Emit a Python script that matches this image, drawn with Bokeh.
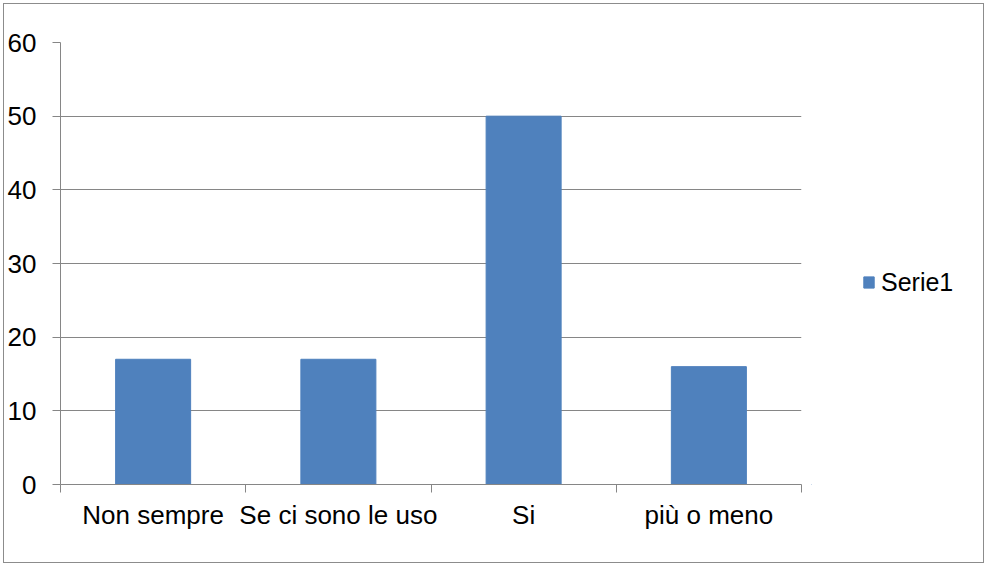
from bokeh.plotting import figure
from bokeh.layouts import row
from bokeh.models import FixedTicker, Legend, LegendItem
from bokeh.embed import file_html
from bokeh.resources import INLINE

categories = ["Non sempre", "Se ci sono le uso", "Si", "più o meno"]
values = [17, 17, 50, 16]
series_name = "Serie1"
y_ticks = [0, 10, 20, 30, 40, 50, 60]

xs = [i + 1 for i in range(len(categories))]
FONT = "Liberation Sans"
GRAY = "#868686"
BLUE = "#4F81BD"

p = figure(width=807, height=558, x_range=(0.5, len(categories) + 0.5), y_range=(0, 60),
           output_backend="svg", toolbar_location=None,
           min_border_left=56, min_border_right=10, min_border_top=38, min_border_bottom=78)
p.outline_line_color = None
p.background_fill_color = "white"
p.border_fill_color = "white"

r = p.vbar(x=xs, top=values, width=0.405, fill_color=BLUE, line_color=BLUE)

# x axis: category labels at centres, tick marks at boundaries
p.xaxis.ticker = FixedTicker(ticks=xs, minor_ticks=[x - 0.5 for x in xs] + [xs[-1] + 0.5])
p.xaxis.major_label_overrides = {x: c for x, c in zip(xs, categories)}
p.xaxis.major_tick_in = 0
p.xaxis.major_tick_out = 0
p.xaxis.minor_tick_in = 0
p.xaxis.minor_tick_out = 8
p.xaxis.minor_tick_line_color = GRAY
p.xaxis.axis_line_color = GRAY
p.xaxis.major_label_standoff = 7
p.xaxis.major_label_text_font = FONT
p.xaxis.major_label_text_font_size = "26px"
p.xaxis.major_label_text_color = "black"
p.xgrid.visible = False

# y axis
p.yaxis.ticker = FixedTicker(ticks=y_ticks)
p.yaxis.major_tick_in = 0
p.yaxis.major_tick_out = 8
p.yaxis.minor_tick_out = 0
p.yaxis.major_tick_line_color = GRAY
p.yaxis.axis_line_color = GRAY
p.yaxis.major_label_standoff = 16
p.yaxis.major_label_text_font = FONT
p.yaxis.major_label_text_font_size = "26px"
p.yaxis.major_label_text_color = "black"
p.ygrid.ticker = FixedTicker(ticks=y_ticks)
p.ygrid.grid_line_color = GRAY
p.ygrid.grid_line_width = 1

# legend panel on the right (its stub bar lies wholly outside the visible ranges)
lp = figure(width=172, height=558, x_range=(0, 1), y_range=(0, 1),
            x_axis_type=None, y_axis_type=None,
            output_backend="svg", toolbar_location=None,
            min_border=0)
lp.outline_line_color = None
lp.background_fill_color = "white"
lp.border_fill_color = "white"
lr = lp.vbar(x=[-5], top=[-5], bottom=[-6], width=0.4, fill_color=BLUE, line_color=BLUE)

legend = Legend(items=[LegendItem(label=series_name, renderers=[lr])],
                location=(51, 187), padding=0, margin=0, spacing=0,
                glyph_width=13, glyph_height=14, label_standoff=6, label_height=30,
                label_text_font=FONT, label_text_font_size="25px", label_text_color="black",
                border_line_color=None, background_fill_alpha=0)
lp.add_layout(legend, "center")

layout = row(p, lp)
layout.styles = {"border": "1px solid #8c8c8c", "margin-left": "3px", "margin-top": "3px"}

open("out.html", "w").write(file_html(layout, INLINE))
